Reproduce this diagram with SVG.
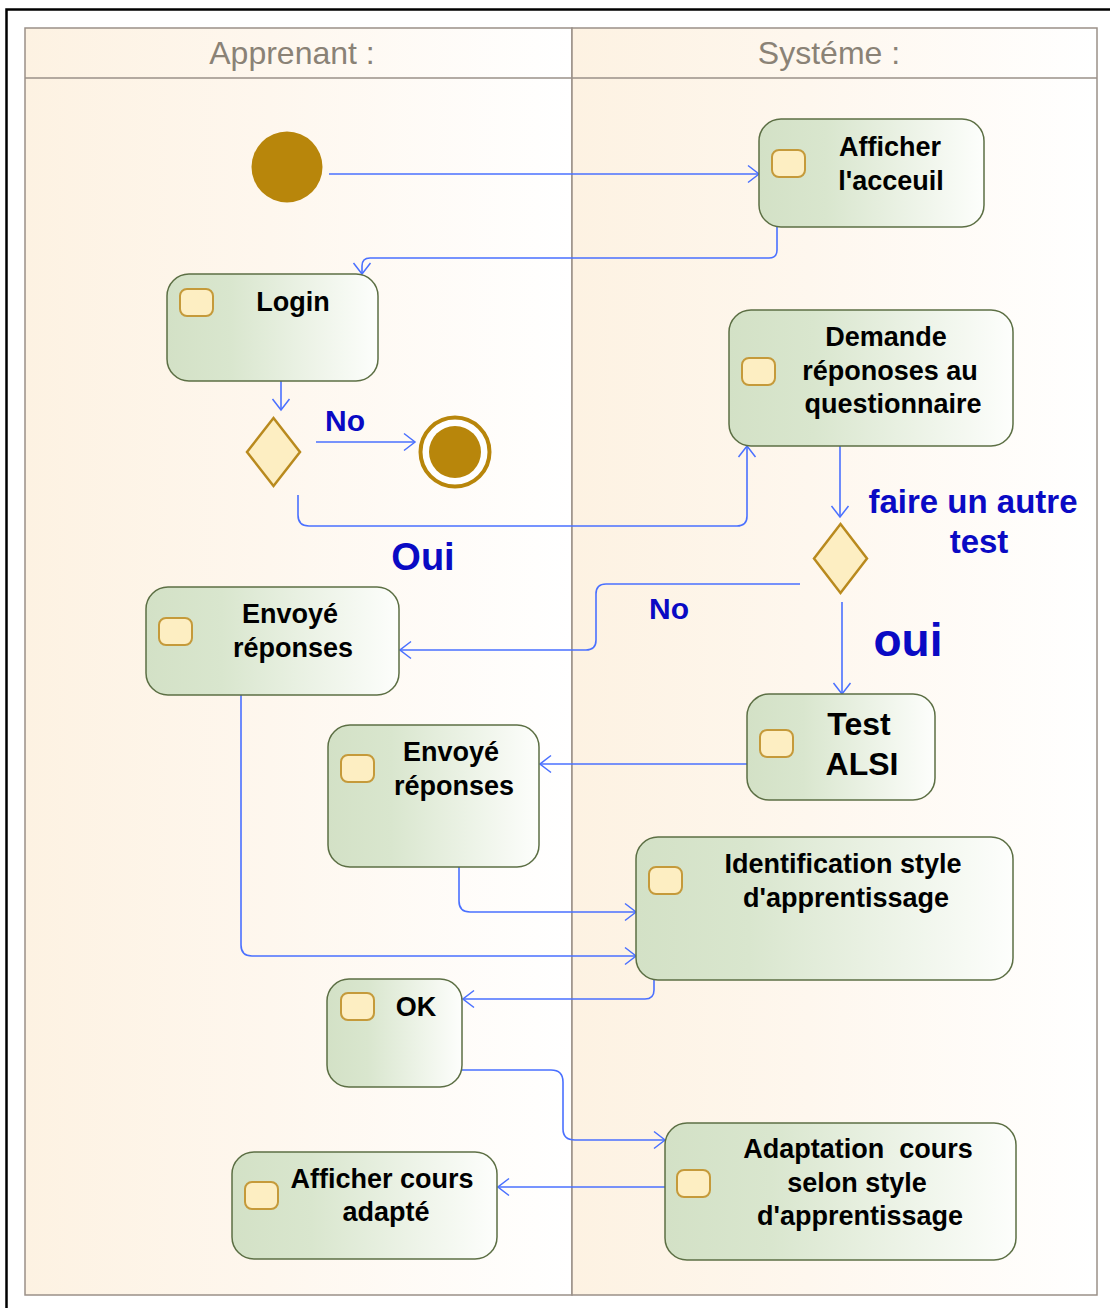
<svg xmlns="http://www.w3.org/2000/svg" width="1110" height="1308" viewBox="0 0 1110 1308">
<defs>
<linearGradient id="laneGrad" x1="0" y1="0" x2="1" y2="0">
<stop offset="0" stop-color="#fdf2e2"/>
<stop offset="0.45" stop-color="#fef7ee"/>
<stop offset="1" stop-color="#ffffff"/>
</linearGradient>
<linearGradient id="nodeGrad" x1="0" y1="0" x2="1" y2="0">
<stop offset="0" stop-color="#d3e1c6"/>
<stop offset="0.3" stop-color="#d9e6ce"/>
<stop offset="1" stop-color="#fdfefc"/>
</linearGradient>
<marker id="arr" markerUnits="userSpaceOnUse" markerWidth="14" markerHeight="20" viewBox="-1 -10 13 20" refX="11" refY="0" orient="auto">
<path d="M0,-8.5 L11,0 L0,8.5" fill="none" stroke="#4a70ff" stroke-width="1.5"/>
</marker>
</defs>
<style>
.lane{fill:url(#laneGrad);stroke:#9a9088;stroke-width:1.5}
.hdr{font-family:"Liberation Sans",Arial,sans-serif;font-size:32px;fill:#8a8276;text-anchor:middle}
.node{fill:url(#nodeGrad);stroke:#5c6f44;stroke-width:1.5}
.icon{fill:#fdeec2;stroke:#c59a3a;stroke-width:2}
.t{font-family:"Liberation Sans",Arial,sans-serif;font-weight:bold;font-size:27px;fill:#000;text-anchor:middle}
.big{font-size:32px}
.lbl{font-family:"Liberation Sans",Arial,sans-serif;font-weight:bold;fill:#0a0ac4}
.c{fill:none;stroke:#4a70ff;stroke-width:1.6}
.dec{fill:#fdeec2;stroke:#b98a1e;stroke-width:2.5}
</style>
<rect x="0" y="0" width="1110" height="1308" fill="#ffffff"/>
<path d="M6.5,1310 V9.5 H1112" fill="none" stroke="#000" stroke-width="2.5"/>

<g id="lanes">
<rect class="lane" x="25" y="28" width="547" height="1267"/>
<rect class="lane" x="572" y="28" width="525" height="1267"/>
<line x1="25" y1="78" x2="1097" y2="78" stroke="#9a9088" stroke-width="1.5"/>
<text class="hdr" x="292" y="64">Apprenant :</text>
<text class="hdr" x="829" y="64">Systéme :</text>
</g>

<g id="connectors">
<path class="c" d="M329,174 H759" marker-end="url(#arr)"/>
<path class="c" d="M777,227 V250 Q777,258 769,258 H370 Q362,258 362,266 V274" marker-end="url(#arr)"/>
<path class="c" d="M281,381 V410" marker-end="url(#arr)"/>
<path class="c" d="M316,442 H415" marker-end="url(#arr)"/>
<path class="c" d="M298,495 V515 Q298,526 309,526 H737 Q747,526 747,516 V446" marker-end="url(#arr)"/>
<path class="c" d="M840,446 V517" marker-end="url(#arr)"/>
<path class="c" d="M800,584 H606 Q596,584 596,594 V640 Q596,650 586,650 H400" marker-end="url(#arr)"/>
<path class="c" d="M842,602 V694" marker-end="url(#arr)"/>
<path class="c" d="M747,764 H540" marker-end="url(#arr)"/>
<path class="c" d="M459,867 V901 Q459,912 470,912 H636" marker-end="url(#arr)"/>
<path class="c" d="M241,695 V945 Q241,956 252,956 H636" marker-end="url(#arr)"/>
<path class="c" d="M654,980 V990 Q654,999 645,999 H463" marker-end="url(#arr)"/>
<path class="c" d="M462,1070 H551 Q563,1070 563,1082 V1129 Q563,1140 575,1140 H665" marker-end="url(#arr)"/>
<path class="c" d="M665,1187 H498" marker-end="url(#arr)"/>
</g>

<g id="labels">
<text class="lbl" x="345" y="431" font-size="30" text-anchor="middle">No</text>
<text class="lbl" x="423" y="570" font-size="38" text-anchor="middle">Oui</text>
<text class="lbl" x="973" y="513" font-size="33" text-anchor="middle">faire un autre</text>
<text class="lbl" x="979" y="553" font-size="33" text-anchor="middle">test</text>
<text class="lbl" x="669" y="619" font-size="30" text-anchor="middle">No</text>
<text class="lbl" x="908" y="656" font-size="46" text-anchor="middle">oui</text>
</g>

<g id="start"><circle cx="287" cy="167" r="35.5" fill="#b8860b"/></g>

<g id="afficher-accueil">
<rect class="node" x="759" y="119" width="225" height="108" rx="22"/>
<rect class="icon" x="772" y="150" width="33" height="27" rx="7"/>
<text class="t" x="890" y="156">Afficher</text>
<text class="t" x="891" y="190">l'acceuil</text>
</g>

<g id="login">
<rect class="node" x="167" y="274" width="211" height="107" rx="22"/>
<rect class="icon" x="180" y="289" width="33" height="27" rx="7"/>
<text class="t" x="293" y="311">Login</text>
</g>

<g id="decision1"><polygon class="dec" points="273.5,418 300,452 273.5,486 247,452"/></g>

<g id="final">
<circle cx="455" cy="452" r="34.5" fill="#ffffff" stroke="#b8860b" stroke-width="4"/>
<circle cx="455" cy="452" r="26" fill="#b8860b"/>
</g>

<g id="demande">
<rect class="node" x="729" y="310" width="284" height="136" rx="22"/>
<rect class="icon" x="742" y="358" width="33" height="27" rx="7"/>
<text class="t" x="886" y="346">Demande</text>
<text class="t" x="890" y="380">réponoses au</text>
<text class="t" x="893" y="413">questionnaire</text>
</g>

<g id="decision2"><polygon class="dec" points="840.5,524 867,558.5 840.5,593 814,558.5"/></g>

<g id="envoye1">
<rect class="node" x="146" y="587" width="253" height="108" rx="22"/>
<rect class="icon" x="159" y="618" width="33" height="27" rx="7"/>
<text class="t" x="290" y="623">Envoyé</text>
<text class="t" x="293" y="657">réponses</text>
</g>

<g id="test-alsi">
<rect class="node" x="747" y="694" width="188" height="106" rx="22"/>
<rect class="icon" x="760" y="730" width="33" height="27" rx="7"/>
<text class="t big" x="859" y="735">Test</text>
<text class="t big" x="862" y="775">ALSI</text>
</g>

<g id="envoye2">
<rect class="node" x="328" y="725" width="211" height="142" rx="22"/>
<rect class="icon" x="341" y="755" width="33" height="27" rx="7"/>
<text class="t" x="451" y="761">Envoyé</text>
<text class="t" x="454" y="795">réponses</text>
</g>

<g id="identification">
<rect class="node" x="636" y="837" width="377" height="143" rx="22"/>
<rect class="icon" x="649" y="867" width="33" height="27" rx="7"/>
<text class="t" x="843" y="873">Identification style</text>
<text class="t" x="846" y="907">d'apprentissage</text>
</g>

<g id="ok">
<rect class="node" x="327" y="979" width="135" height="108" rx="22"/>
<rect class="icon" x="341" y="993" width="33" height="27" rx="7"/>
<text class="t" x="416" y="1016">OK</text>
</g>

<g id="adaptation">
<rect class="node" x="665" y="1123" width="351" height="137" rx="22"/>
<rect class="icon" x="677" y="1170" width="33" height="27" rx="7"/>
<text class="t" x="858" y="1158" xml:space="preserve">Adaptation  cours</text>
<text class="t" x="857" y="1192">selon style</text>
<text class="t" x="860" y="1225">d'apprentissage</text>
</g>

<g id="afficher-cours">
<rect class="node" x="232" y="1152" width="265" height="107" rx="22"/>
<rect class="icon" x="245" y="1182" width="33" height="27" rx="7"/>
<text class="t" x="382" y="1188">Afficher cours</text>
<text class="t" x="386" y="1221">adapté</text>
</g>
</svg>
